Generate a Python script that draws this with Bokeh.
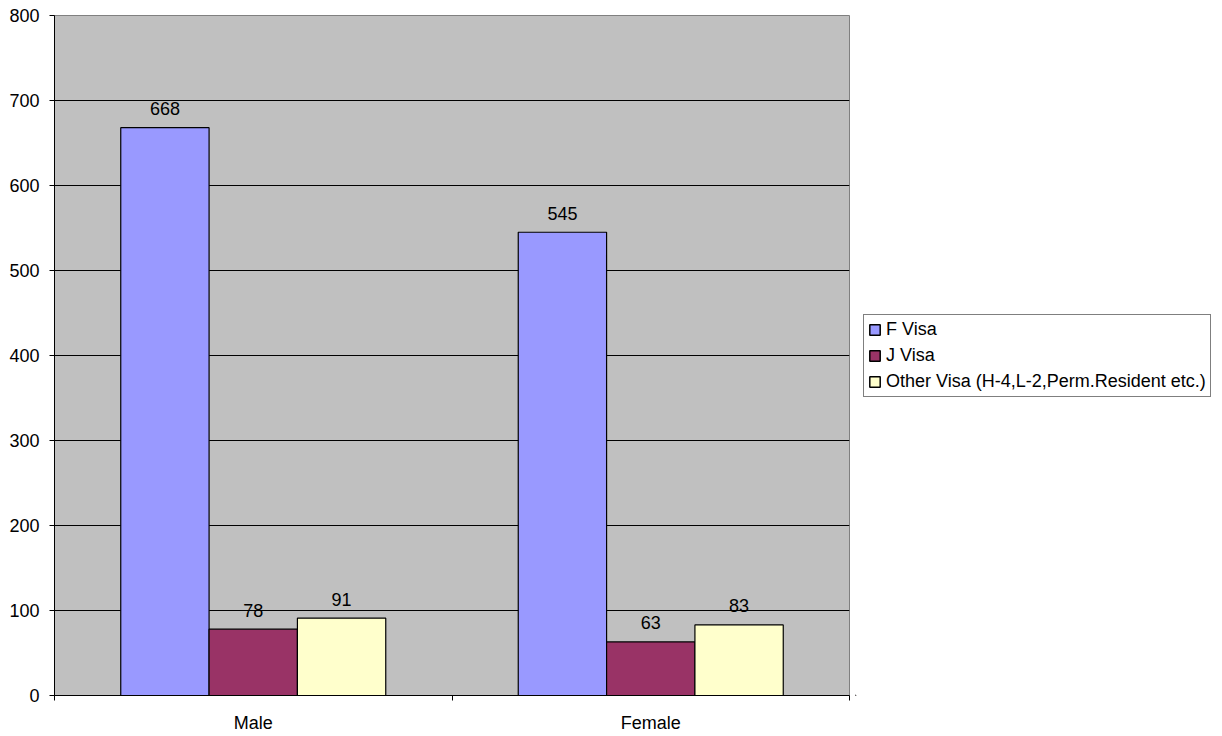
from bokeh.plotting import figure
from bokeh.layouts import row
from bokeh.models import (ColumnDataSource, Range1d, FixedTicker, Legend, LegendItem)
from bokeh.core.properties import value
from bokeh.embed import file_html
from bokeh.resources import INLINE
import numpy as np

categories = ["Male", "Female"]
series_names = ["F Visa", "J Visa", "Other Visa (H-4,L-2,Perm.Resident etc.)"]
f_visa = [668, 545]
j_visa = [78, 63]
other_visa = [91, 83]
y_ticks = [0, 100, 200, 300, 400, 500, 600, 700, 800]

series_values = [f_visa, j_visa, other_visa]
colors = ["#9999FF", "#993366", "#FFFFCC"]
FONT = "Liberation Sans"
FS = "18px"

p = figure(width=855, height=736, output_backend="svg", toolbar_location=None,
           x_range=Range1d(0, len(categories)), y_range=Range1d(0, 800),
           min_border_left=54, min_border_top=15, min_border_bottom=41,
           min_border_right=6,
           background_fill_color="white", border_fill_color="white")
p.background_fill_color = "#C0C0C0"
p.outline_line_color = "#808080"
p.outline_line_width = 1

# legend-only figure placed to the right
lf = figure(width=360, height=736, output_backend="svg", toolbar_location=None,
            x_range=Range1d(0, 1), y_range=Range1d(0, 1),
            x_axis_type=None, y_axis_type=None,
            min_border_left=0, min_border_right=0, min_border_top=0, min_border_bottom=0)
lf.outline_line_color = None
lf.xgrid.grid_line_color = None
lf.ygrid.grid_line_color = None

bw = 1 / 4.5
idx = np.arange(len(categories))
items = []
for i, (name, vals, col) in enumerate(zip(series_names, series_values, colors)):
    xs = idx + 0.5 + (i - 1) * bw
    src = ColumnDataSource(dict(x=xs, top=vals, label=[str(v) for v in vals]))
    p.vbar(x="x", top="top", width=bw, bottom=0, source=src,
           fill_color=col, line_color="black", line_width=1.2)
    p.text(x="x", y="top", text="label", source=src, text_align="center",
           text_baseline="middle", y_offset=-19, text_font=value(FONT),
           text_font_size=FS, text_color="black")
    # legend swatch renderer (same style, kept outside the legend figure's visible range)
    lr = lf.vbar(x=[-10], top=[-10], bottom=[-11], width=0.1,
                 fill_color=col, line_color="black", line_width=1.5)
    items.append(LegendItem(label=name, renderers=[lr]))

# axes
p.xaxis.ticker = FixedTicker(ticks=list(idx + 0.5), minor_ticks=list(range(len(categories) + 1)))
p.xaxis.major_label_overrides = {float(i + 0.5): c for i, c in enumerate(categories)}
p.xaxis.major_tick_out = 0
p.xaxis.major_tick_in = 0
p.xaxis.minor_tick_out = 5
p.xaxis.minor_tick_in = 0
p.xaxis.minor_tick_line_color = "black"
p.xaxis.axis_line_color = "black"
p.xaxis.major_label_standoff = 12
p.xaxis.major_label_text_font = FONT
p.xaxis.major_label_text_font_size = FS
p.xaxis.major_label_text_color = "black"

p.yaxis.ticker = FixedTicker(ticks=y_ticks)
p.yaxis.major_tick_out = 5
p.yaxis.major_tick_in = 0
p.yaxis.minor_tick_line_color = None
p.yaxis.major_tick_line_color = "black"
p.yaxis.axis_line_color = "black"
p.yaxis.major_label_standoff = 10
p.yaxis.major_label_text_font = FONT
p.yaxis.major_label_text_font_size = FS
p.yaxis.major_label_text_color = "black"

p.xgrid.grid_line_color = None
p.ygrid.ticker = FixedTicker(ticks=y_ticks[1:-1])
p.ygrid.grid_line_color = "black"
p.ygrid.grid_line_width = 1

legend = Legend(items=items, location=(8, 298), margin=0,
                label_text_font=FONT, label_text_font_size=FS, label_text_color="black",
                glyph_width=13, glyph_height=13, label_standoff=5, label_height=21,
                spacing=5, padding=4, border_line_color="black", border_line_width=1,
                background_fill_color="white", background_fill_alpha=1)
lf.add_layout(legend, "center")

layout = row(p, lf, spacing=0)
open("out.html", "w").write(file_html(layout, INLINE))
